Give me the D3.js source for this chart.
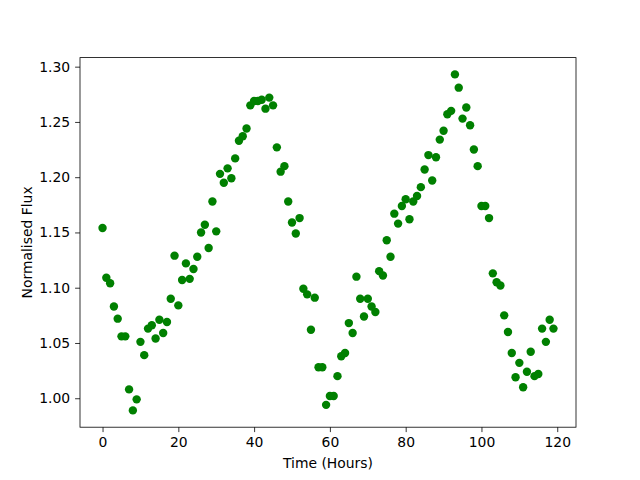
<!DOCTYPE html>
<html>
<head>
<meta charset="utf-8">
<script src="https://cdn.jsdelivr.net/npm/d3@7"></script>
<style>
  body { margin: 0; background: #fff; }
  svg text { font-family: "DejaVu Sans", sans-serif; fill: #000; }
</style>
</head>
<body>
<svg id="chart" width="640" height="480"></svg>
<script>
// time in hours
const hours = d3.range(0, 120);

// normalised flux, one reading per hour
const flux = [
  1.154, 1.109, 1.104, 1.083, 1.072, 1.056, 1.056, 1.008, 0.989, 0.999,
  1.051, 1.039, 1.063, 1.066, 1.054, 1.071, 1.059, 1.069, 1.090, 1.129,
  1.084, 1.107, 1.122, 1.108, 1.117, 1.128, 1.150, 1.157, 1.136, 1.178,
  1.151, 1.203, 1.195, 1.208, 1.199, 1.217, 1.233, 1.237, 1.244, 1.265,
  1.269, 1.269, 1.270, 1.262, 1.272, 1.265, 1.227, 1.205, 1.210, 1.178,
  1.159, 1.149, 1.163, 1.099, 1.094, 1.062, 1.091, 1.028, 1.028, 0.994,
  1.002, 1.002, 1.020, 1.038, 1.041, 1.068, 1.059, 1.110, 1.090, 1.074,
  1.090, 1.083, 1.078, 1.115, 1.111, 1.143, 1.128, 1.167, 1.158, 1.174,
  1.180, 1.162, 1.178, 1.183, 1.191, 1.207, 1.220, 1.197, 1.218, 1.234,
  1.242, 1.257, 1.260, 1.293, 1.281, 1.253, 1.263, 1.247, 1.225, 1.210,
  1.174, 1.174, 1.163, 1.113, 1.105, 1.102, 1.075, 1.060, 1.041, 1.019,
  1.032, 1.010, 1.024, 1.042, 1.020, 1.022, 1.063, 1.051, 1.071, 1.063
];

const xTicks = [0, 20, 40, 60, 80, 100, 120];
const yTicks = [1.00, 1.05, 1.10, 1.15, 1.20, 1.25, 1.30];

const data = hours.map((h, i) => ({ t: h, f: flux[i] }));

const width = 640, height = 480;
const margin = { left: 80, right: 64, top: 57.6, bottom: 52.8 };
const plotW = width - margin.left - margin.right;
const plotH = height - margin.top - margin.bottom;

// matplotlib style 5% padding
function padded(ext) {
  const p = (ext[1] - ext[0]) * 0.05;
  return [ext[0] - p, ext[1] + p];
}

const x = d3.scaleLinear()
  .domain(padded(d3.extent(data, d => d.t)))
  .range([0, plotW]);
const y = d3.scaleLinear()
  .domain(padded(d3.extent(data, d => d.f)))
  .range([plotH, 0]);

const svg = d3.select("#chart");
const g = svg.append("g")
  .attr("transform", "translate(" + margin.left + "," + margin.top + ")");

g.append("g")
  .selectAll("circle")
  .data(data)
  .join("circle")
  .attr("cx", d => x(d.t))
  .attr("cy", d => y(d.f))
  .attr("r", 4.2)
  .attr("fill", "#008000");

const xAxis = g.append("g")
  .attr("transform", "translate(0," + plotH + ")")
  .call(d3.axisBottom(x).tickValues(xTicks).tickSizeInner(4.9).tickSizeOuter(0).tickPadding(4.9));
const yAxis = g.append("g")
  .call(d3.axisLeft(y).tickValues(yTicks).tickFormat(d3.format(".2f")).tickSizeInner(4.9).tickSizeOuter(0).tickPadding(4.9));

[xAxis, yAxis].forEach(a => {
  a.select(".domain").remove();
  a.selectAll("line").attr("stroke", "#000").attr("stroke-width", 0.8);
  a.selectAll("text").style("font-size", "13.9px").style("font-family", "DejaVu Sans, sans-serif");
});

// frame
g.append("rect")
  .attr("width", plotW)
  .attr("height", plotH)
  .attr("fill", "none")
  .attr("stroke", "#000")
  .attr("stroke-width", 0.8);

svg.append("text")
  .attr("x", margin.left + plotW / 2)
  .attr("y", 468)
  .attr("text-anchor", "middle")
  .style("font-size", "13.9px")
  .text("Time (Hours)");

svg.append("text")
  .attr("transform", "translate(32," + (margin.top + plotH / 2) + ") rotate(-90)")
  .attr("text-anchor", "middle")
  .style("font-size", "13.9px")
  .text("Normalised Flux");
</script>
</body>
</html>
